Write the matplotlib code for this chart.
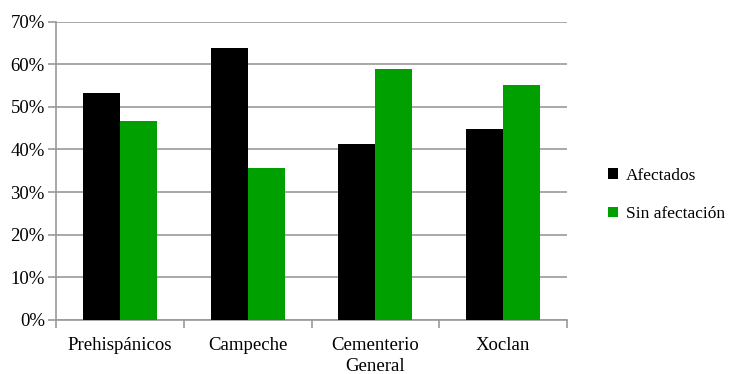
import numpy as np
import matplotlib
matplotlib.use("Agg")
import matplotlib.pyplot as plt

categorias = ["Prehispánicos", "Campeche", "Cementerio\nGeneral", "Xoclan"]
afectados = [53.2, 63.9, 41.2, 44.9]
sin_afectacion = [46.7, 35.6, 58.8, 55.1]

plt.rcParams['font.family'] = ['Liberation Serif', 'DejaVu Serif']

fig = plt.figure(figsize=(7.3, 3.74), dpi=100)
ax = fig.add_axes([56/730, 1 - 320/374, (567-56)/730, (320-21.5)/374])

x = np.arange(len(categorias))
ancho = 0.29
ax.bar(x - ancho/2, afectados, ancho, color="black", label="Afectados", zorder=3)
ax.bar(x + ancho/2, sin_afectacion, ancho, color="#00a000", label="Sin afectación", zorder=3)

ax.set_ylim(0, 70)
ax.set_xlim(-0.5, len(categorias) - 0.5)
ax.set_yticks(range(0, 71, 10))
ax.set_yticklabels([f"{v}%" for v in range(0, 71, 10)], fontsize=13.5)
ax.yaxis.grid(True, color="#9a9a9a", linewidth=1.2, zorder=0)

# ticks del eje x entre categorias, etiquetas centradas
ax.set_xticks(np.arange(-0.5, len(categorias), 1.0))
ax.set_xticklabels([])
ax.set_xticks(x, minor=True)
ax.set_xticklabels(categorias, minor=True, fontsize=13.5, linespacing=1.3)
ax.tick_params(axis="x", which="minor", length=0, pad=12)
ax.tick_params(axis="x", which="major", length=6, color="#9a9a9a", width=1.2)
ax.tick_params(axis="y", length=6, color="#9a9a9a", width=1.2, pad=2)

for lado in ["top", "right"]:
    ax.spines[lado].set_visible(False)
for lado in ["left", "bottom"]:
    ax.spines[lado].set_color("#9a9a9a")
    ax.spines[lado].set_linewidth(1.2)

fig.legend(loc="center left", bbox_to_anchor=(596/730, 1 - 195/374), frameon=False,
           fontsize=12.5, handlelength=0.55, handleheight=0.55, handletextpad=0.45,
           labelspacing=1.3, borderpad=0.2)

fig.savefig("out.png", dpi=100)
